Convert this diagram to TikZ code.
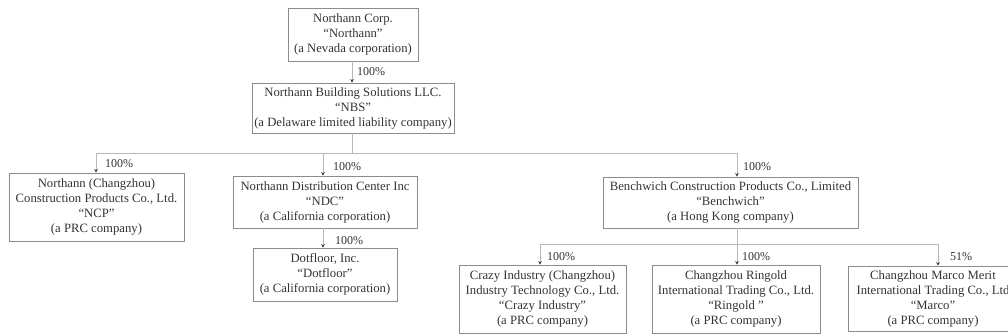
\documentclass[tikz,border=0pt]{standalone}
\usepackage{fontspec}
\setmainfont{Liberation Serif}
\usetikzlibrary{arrows.meta}
\definecolor{txt}{gray}{0.2}
\definecolor{boxc}{gray}{0.55}
\definecolor{linec}{gray}{0.72}
\begin{document}
\begin{tikzpicture}[x=1pt,y=-1pt,
  box/.style={draw=boxc, line width=0.9pt, inner sep=0pt, align=center, text=txt,
    font=\fontsize{12.7}{15}\selectfont},
  conn/.style={draw=linec, line width=0.9pt},
  arr/.style={conn, -{Stealth[length=3.5pt,width=3.5pt,color=txt]}},
  pct/.style={text=txt, font=\fontsize{12}{13}\selectfont, inner sep=0pt, anchor=west}]
\useasboundingbox (0,0) rectangle (1008,336);
\clip (0,0) rectangle (1008,336);
\node[box, minimum width=130pt, minimum height=53pt] (top) at (353,34.5)
  {Northann Corp.\\“Northann”\\(a Nevada corporation)};
\node[box, minimum width=202pt, minimum height=50pt] (nbs) at (353,108)
  {Northann Building Solutions LLC.\\“NBS”\\(a Delaware limited liability company)};
\node[box, minimum width=175pt, minimum height=68pt] (ncp) at (96.5,207)
  {Northann (Changzhou)\\Construction Products Co., Ltd.\\“NCP”\\(a PRC company)};
\node[box, minimum width=184pt, minimum height=52pt] (ndc) at (325,202)
  {Northann Distribution Center Inc\\“NDC”\\(a California corporation)};
\node[box, minimum width=144pt, minimum height=53pt] (dot) at (325,274.5)
  {Dotfloor, Inc.\\“Dotfloor”\\(a California corporation)};
\node[box, minimum width=255pt, minimum height=51pt] (bench) at (730.5,202.5)
  {Benchwich Construction Products Co., Limited\\“Benchwich”\\(a Hong Kong company)};
\node[box, minimum width=167pt, minimum height=68pt] (crazy) at (542.5,299)
  {Crazy Industry (Changzhou)\\Industry Technology Co., Ltd.\\“Crazy Industry”\\(a PRC company)};
\node[box, minimum width=168pt, minimum height=68pt] (ring) at (736,299)
  {Changzhou Ringold\\International Trading Co., Ltd.\\“Ringold ”\\(a PRC company)};
\node[box, minimum width=170pt, minimum height=65pt] (marco) at (933,298.5)
  {Changzhou Marco Merit\\International Trading Co., Ltd\\“Marco”\\(a PRC company)};
% connectors
\draw[arr] (top.south -| 352,0) -- (nbs.north -| 352,0);
\node[pct] (p0) at (357,72) {100\%};
\coordinate (busL) at (96,153);
\coordinate (busR) at (737,153);
\coordinate (busM) at (352,153);
\draw[conn] (nbs.south -| busM) -- (busM);
\draw[conn] (busL) -- (busR);
\draw[arr] (busL) -- (ncp.north -| busL);
\node[pct] (p1) at (105,164) {100\%};
\coordinate (bndc) at (323,153);
\draw[arr] (bndc) -- (ndc.north -| bndc);
\node[pct] (p2) at (333,167) {100\%};
\draw[arr] (ndc.south -| bndc) -- (dot.north -| bndc);
\node[pct] (p3) at (335,241) {100\%};
\draw[arr] (busR) -- (bench.north -| busR);
\node[pct] (p4) at (743,167) {100\%};
\coordinate (cbL) at (540,244);
\coordinate (cbM) at (737,244);
\coordinate (cbR) at (938,244);
\draw[conn] (bench.south -| cbM) -- (cbM);
\draw[conn] (cbL) -- (cbR);
\draw[arr] (cbL) -- (crazy.north -| cbL);
\draw[arr] (cbM) -- (ring.north -| cbM);
\draw[arr] (cbR) -- (marco.north -| cbR);
\node[pct] (p5) at (547,257) {100\%};
\node[pct] (p6) at (742,257) {100\%};
\node[pct] (p7) at (950,257) {51\%};
\end{tikzpicture}
\end{document}
